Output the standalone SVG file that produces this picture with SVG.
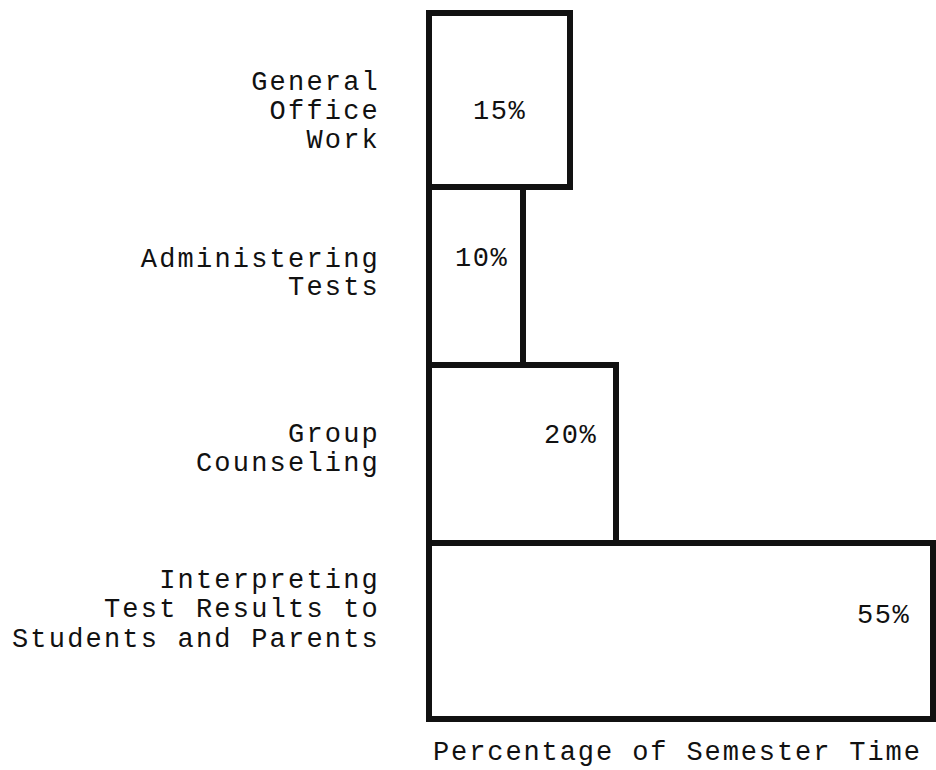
<svg xmlns="http://www.w3.org/2000/svg" width="936" height="770" viewBox="0 0 936 770">
<style>
.bar{fill:none;stroke:#111;stroke-width:6;stroke-linejoin:miter}
.lbl{font-family:"Liberation Mono","Courier New",monospace;font-size:27px;letter-spacing:2.2px;fill:#111;text-anchor:end}
.pct{font-family:"Liberation Mono","Courier New",monospace;font-size:27px;letter-spacing:1.5px;fill:#111}
.axis{font-family:"Liberation Mono","Courier New",monospace;font-size:27px;letter-spacing:1.9px;fill:#111}
</style>
<rect width="936" height="770" fill="#fff"/>
<g id="general-office-work">
<rect class="bar" x="429" y="13" width="141" height="174"/>
<text class="lbl" x="380" y="90">General</text>
<text class="lbl" x="380" y="119">Office</text>
<text class="lbl" x="380" y="148">Work</text>
<text class="pct" x="473" y="119">15%</text>
</g>
<g id="administering-tests">
<rect class="bar" x="429" y="187" width="94" height="178"/>
<text class="lbl" x="380" y="267">Administering</text>
<text class="lbl" x="380" y="295">Tests</text>
<text class="pct" x="455" y="266">10%</text>
</g>
<g id="group-counseling">
<rect class="bar" x="429" y="365" width="187" height="178"/>
<text class="lbl" x="380" y="442">Group</text>
<text class="lbl" x="380" y="471">Counseling</text>
<text class="pct" x="544" y="443">20%</text>
</g>
<g id="interpreting-test-results">
<rect class="bar" x="429" y="543" width="504" height="176"/>
<text class="lbl" x="380" y="588">Interpreting</text>
<text class="lbl" x="380" y="617">Test Results to</text>
<text class="lbl" x="380" y="647">Students and Parents</text>
<text class="pct" x="857" y="623">55%</text>
</g>
<g id="connectors"></g>
<text class="axis" x="433" y="760">Percentage of Semester Time</text>
</svg>
